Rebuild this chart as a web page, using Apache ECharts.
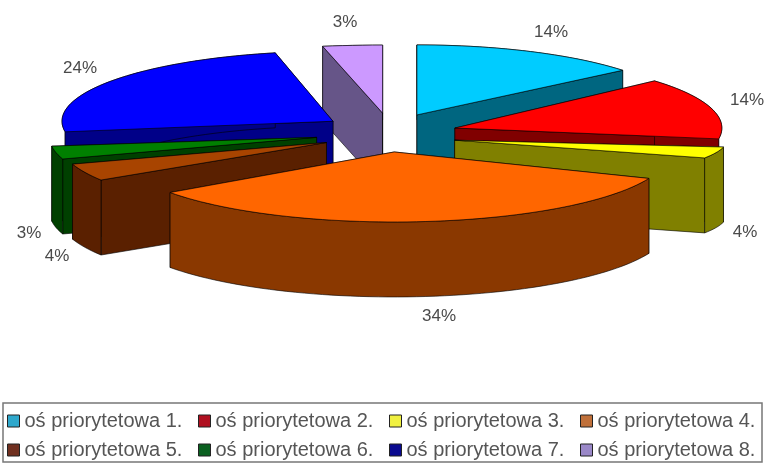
<!DOCTYPE html>
<html><head><meta charset="utf-8">
<style>html,body{margin:0;padding:0;background:#fff}#c{width:765px;height:463px}</style>
<script src="https://cdn.jsdelivr.net/npm/echarts@6/dist/echarts.min.js"></script>
</head><body><div id="c"></div>
<script>
const categories = ['oś priorytetowa 1.','oś priorytetowa 2.','oś priorytetowa 3.','oś priorytetowa 4.','oś priorytetowa 5.','oś priorytetowa 6.','oś priorytetowa 7.','oś priorytetowa 8.'];
const values = [14,14,4,34,4,3,24,3];
const topColors = ['#00CCFF','#FF0000','#FFFF00','#FF6600','#A84400','#008000','#0000FF','#CC99FF'];
const wallColors = ['#006680','#800000','#808000','#8A3800','#5A2000','#004000','#000088','#665588'];
const legendColors = ['#2FA8CC','#B01020','#F0F040','#C0703A','#703020','#0A6020','#0A0A90','#9A88C8'];
const drawOrder = [7,0,6,1,5,2,4,3];
const labelPos = [[551,32],[747,100],[745,232],[439,316],[57,256],[29,233],[80,68],[345,22]];
// perspective corrections per slice: apex dx, apex dy, rx, ry, rotation in degrees
const sliceShape = [
  [-3,0,267,70,0],
  [-2,0,267,71,-2],
  [-1,1,272,45,-2],
  [-1,-1,275,70,-3],
  [-3,1,267,70,0],
  [-8,0,267,70,0],
  [-3,0,271,70,-1.5],
  [-2,0,320,68,0]
];

const cx=391, cy=133, depth=75, ex=68, ey=20, edge='rgba(0,0,0,0.6)';
const total = values.reduce((a,b)=>a+b,0);
const starts = []; let acc=0; values.forEach(v=>{starts.push(acc);acc+=v;});

function renderSlice(idx){
  return function(){
    const s=sliceShape[idx], rot=s[4]*Math.PI/180;
    const a0=starts[idx]/total*2*Math.PI, a1=(starts[idx]+values[idx])/total*2*Math.PI, m=(a0+a1)/2;
    const ax=cx+ex*Math.sin(m)+s[0], ay=cy-ey*Math.cos(m)+s[1];
    const pt=a=>[ax+s[2]*Math.sin(a+rot), ay-s[3]*Math.cos(a+rot)];
    const arc=[]; const n=Math.max(4,Math.ceil((a1-a0)/(Math.PI/90)));
    for(let i=0;i<=n;i++) arc.push(pt(a0+(a1-a0)*i/n));
    const drop=p=>[p[0],p[1]+depth];
    const wall=pts=>({type:'polygon',shape:{points:pts.concat(pts.slice().reverse().map(drop))},
      style:{fill:wallColors[idx],stroke:edge,lineWidth:1}});
    const walls=[[[ax,ay],arc[0]],[[ax,ay],arc[arc.length-1]],arc];
    walls.sort((p,q)=>Math.max(...p.map(z=>z[1]))-Math.max(...q.map(z=>z[1])));
    const children=walls.map(wall);
    children.push({type:'polygon',shape:{points:[[ax,ay]].concat(arc)},style:{fill:topColors[idx],stroke:edge,lineWidth:1}});
    children.push({type:'text',style:{x:labelPos[idx][0],y:labelPos[idx][1],text:values[idx]+'%',fill:'#4a4a4a',
      font:'17px "Liberation Sans"',align:'center',verticalAlign:'middle'}});
    return {type:'group',children};
  };
}

const chart=echarts.init(document.getElementById('c'),null,{renderer:'canvas'});
chart.setOption({
  animation:false,
  legend:{
    data:categories, left:3, top:403, width:760, orient:'horizontal', icon:'rect',
    itemWidth:12,itemHeight:12,itemGap:9,
    padding:[8,0,2,4], borderColor:'#777', borderWidth:1.5, backgroundColor:'#fff',
    itemStyle:{borderColor:'#222',borderWidth:1},
    textStyle:{fontFamily:'Liberation Sans',fontSize:20,color:'#555',lineHeight:20,width:164.5,overflow:'none'},
    selectedMode:false
  },
  series:drawOrder.map(i=>({
    type:'custom',coordinateSystem:'none',name:categories[i],silent:true,
    itemStyle:{color:legendColors[i]},
    data:[[values[i]]],renderItem:renderSlice(i)
  }))
});
</script></body></html>
